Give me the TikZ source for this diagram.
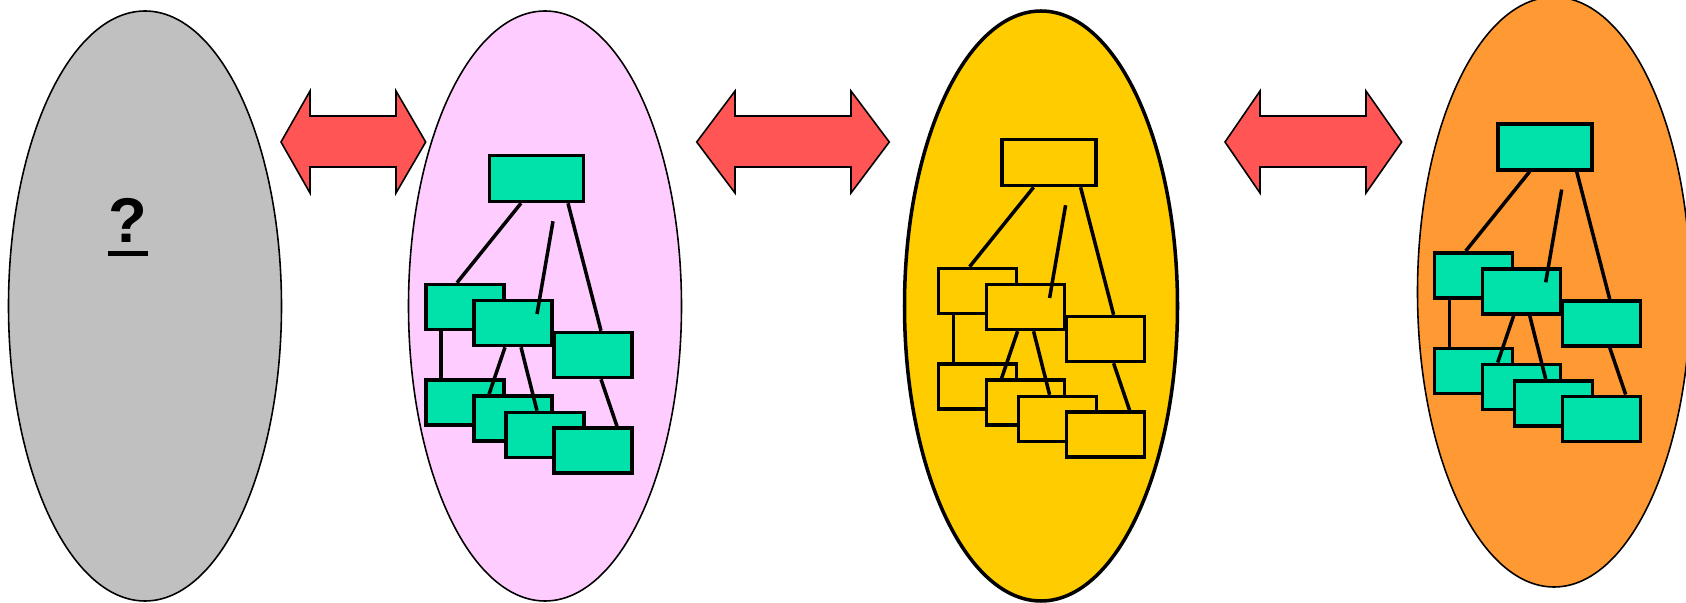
\documentclass[tikz,border=0pt]{standalone}
\usepackage{fontspec}
\setmainfont{Liberation Sans}
\usetikzlibrary{positioning,shapes}
\definecolor{greyblob}{RGB}{192,192,192}
\definecolor{pinkblob}{RGB}{255,204,255}
\definecolor{yellowblob}{RGB}{255,204,0}
\definecolor{orangeblob}{RGB}{255,153,51}
\definecolor{arrowred}{RGB}{255,85,85}
\definecolor{boxgreen}{RGB}{0,226,169}

\begin{document}
\begin{tikzpicture}[x=0.1mm,y=-0.1mm]
\tikzstyle{blob}=[draw=black,ellipse,line width=0.45pt,inner sep=0pt,minimum width=27.3mm,minimum height=59mm]
\tikzstyle{unit}=[draw=black,rectangle,line width=1pt,inner sep=0pt,minimum width=7.8mm,minimum height=4.5mm]
\tikzstyle{root}=[unit,minimum width=9.4mm,minimum height=4.6mm]
\tikzstyle{link}=[line width=1pt]
\tikzstyle{swap}=[draw=black,fill=arrowred,line width=0.45pt,line join=miter]
\useasboundingbox (0,0) rectangle (1686,603);

% the four groups
\node [blob,fill=greyblob] at (145,306) (grey) {};
\node [blob,fill=pinkblob] at (545,306) (pink) {};
\node [blob,fill=yellowblob,line width=1pt] at (1041,306) (yellow) {};
\node [blob,fill=orangeblob] at (1554,292) (orange) {};

\node [inner sep=0pt,font=\fontsize{18}{20}\selectfont\bfseries] at (128,220) (unknown) {?};
\draw [line width=1.4pt] ([yshift=-1.1mm]unknown.south west) -- ([yshift=-1.1mm]unknown.south east);

% double arrows between the groups
\foreach \a/\b/\c/\d in {281/310/396/425.7,696.7/735/851/889.3,1225/1260/1366/1401.7}
  \draw [swap] (\a,142) -- (\b,91) -- (\b,116) -- (\c,116) -- (\c,91) -- (\d,142)
    -- (\c,193) -- (\c,167) -- (\b,167) -- (\b,193) -- cycle;

% the same hierarchy three times
\foreach \t/\dx/\dy/\col in {p/0/0/boxgreen,y/512.6/-16/yellowblob,o/1008.7/-31.7/boxgreen}{
\begin{scope}[shift={(\dx,\dy)}]
\node [root,fill=\col] at (536.5,178.5) (\t-top) {};
\node [unit,fill=\col] at (465,307) (\t-A) {};
\node [unit,fill=\col] at (513,323) (\t-B) {};
\node [unit,fill=\col] at (593,355) (\t-C) {};
\node [unit,fill=\col] at (465,402.5) (\t-D) {};
\node [unit,fill=\col] at (513,418.5) (\t-E) {};
\node [unit,fill=\col] at (545,435) (\t-F) {};
\node [unit,fill=\col] at (593,450.5) (\t-G) {};
\coordinate (\t-s1) at ([xshift=1.65mm,yshift=-1.8mm]\t-top.south);
\coordinate (\t-s2) at ([xshift=2.4mm,yshift=0.9mm]\t-B.center);
\draw [link] ([xshift=-1.55mm]\t-top.south) -- ([xshift=-0.8mm]\t-A.north);
\draw [link] ([xshift=3.15mm]\t-top.south) -- ([xshift=0.8mm]\t-C.north);
\draw [link] (\t-s1) -- (\t-s2);
\draw [link] ([xshift=-2.4mm]\t-A.south) -- ([xshift=-2.4mm]\t-D.north);
\draw [link] ([xshift=-0.8mm]\t-B.south) -- ([xshift=-2.4mm]\t-E.north);
\draw [link] ([xshift=0.8mm]\t-B.south) -- ([xshift=-0.8mm]\t-F.north);
\draw [link] ([xshift=0.8mm]\t-C.south) -- ([xshift=2.4mm]\t-G.north);
\end{scope}}
\end{tikzpicture}
\end{document}
